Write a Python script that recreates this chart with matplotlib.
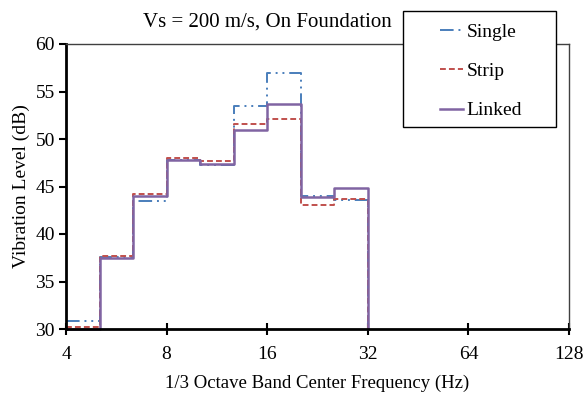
"""
Vibration level spectra at the foundation for Vs = 200 m/s,
comparing single, strip and linked footing layouts.
"""

import matplotlib
matplotlib.use("Agg")
import matplotlib.pyplot as plt
from matplotlib.patches import Rectangle
from matplotlib.ticker import FixedLocator, FixedFormatter, NullLocator

# 1/3 octave band centres (Hz); the last entry closes the final band
BAND_EDGES = [4.0, 5.04, 6.35, 8.0, 10.08, 12.7, 16.0, 20.16, 25.4, 32.0]

SINGLE = [30.8, 37.55, 43.5, 47.75, 47.3, 53.45, 56.9, 44.05, 43.6]
STRIP = [30.25, 37.65, 44.25, 48.05, 47.7, 51.55, 52.15, 43.1, 43.7]
LINKED = [30.0, 37.5, 44.0, 47.75, 47.4, 51.0, 53.65, 43.9, 44.85]

BASE_LEVEL = 30.0
X_TICKS = [4, 8, 16, 32, 64, 128]
Y_TICKS = [30, 35, 40, 45, 50, 55, 60]

plt.rcParams["font.family"] = ["Liberation Serif", "DejaVu Serif"]
plt.rcParams["font.size"] = 14

fig = plt.figure(figsize=(5.85, 3.96), dpi=100)
ax = fig.add_axes([66 / 585, 1 - 329 / 396, 503 / 585, 285 / 396])


def step_series(values):
    return values + [BASE_LEVEL]


l1, = ax.step(BAND_EDGES, step_series(SINGLE), where="post", color="#4a7ebb",
              linewidth=1.4, dashes=(7, 2.5, 1, 2.5, 1, 2.5), clip_on=False)
l2, = ax.step(BAND_EDGES, step_series(STRIP), where="post", color="#c0504d",
              linewidth=1.4, dashes=(3, 1.6), clip_on=False)
l3, = ax.step(BAND_EDGES, step_series(LINKED), where="post", color="#8064a2",
              linewidth=1.8, clip_on=False)

ax.set_xscale("log", base=2)
ax.set_xlim(4, 128)
ax.set_ylim(30, 60)
ax.xaxis.set_major_locator(FixedLocator(X_TICKS))
ax.xaxis.set_major_formatter(FixedFormatter([str(t) for t in X_TICKS]))
ax.xaxis.set_minor_locator(NullLocator())
ax.set_yticks(Y_TICKS)

for side in ("left", "bottom"):
    ax.spines[side].set_linewidth(2.0)
    ax.spines[side].set_color("black")
for side in ("top", "right"):
    ax.spines[side].set_linewidth(1.0)
    ax.spines[side].set_color("#404040")

ax.tick_params(axis="x", direction="inout", length=9, width=1.5, pad=8)
ax.tick_params(axis="y", direction="out", length=5, width=1.5, pad=3)

ax.set_xlabel("1/3 Octave Band Center Frequency (Hz)", fontsize=13.5, labelpad=8)
ax.set_ylabel("Vibration Level (dB)", fontsize=14, labelpad=4)

fig.text(267 / 585, 1 - 22 / 396, "Vs = 200 m/s, On Foundation",
         ha="center", va="center", fontsize=15)

# legend box drawn separately so its size can be set in pixels
box = Rectangle((403 / 585, 1 - 127 / 396), 153 / 585, 116 / 396,
                transform=fig.transFigure, facecolor="white",
                edgecolor="black", linewidth=1.0, zorder=5)
fig.patches.append(box)

leg = fig.legend([l1, l2, l3], ["Single", "Strip", "Linked"],
                 loc="upper left", bbox_to_anchor=(440 / 585, 1 - 23 / 396),
                 frameon=False, handlelength=1.2, handletextpad=0.15,
                 labelspacing=1.12, borderpad=0, borderaxespad=0, fontsize=14)
leg.set_zorder(6)

fig.savefig("out.png", dpi=100)
